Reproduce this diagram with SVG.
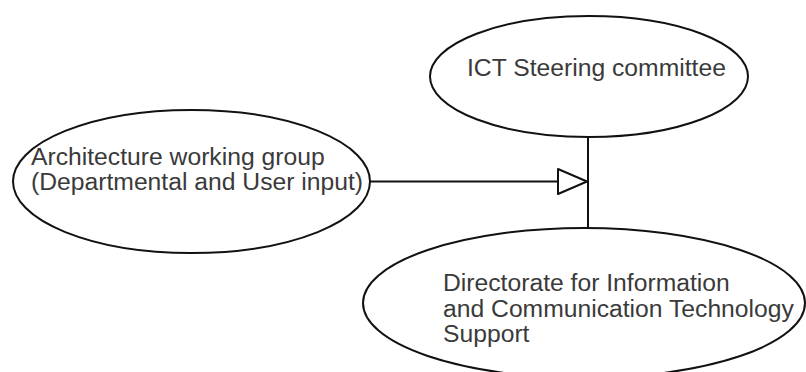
<svg xmlns="http://www.w3.org/2000/svg" width="806" height="372" viewBox="0 0 806 372">
  <style>
    .node ellipse { fill: #ffffff; stroke: #111111; stroke-width: 2; }
    .node text { font-family: "Liberation Sans", Arial, sans-serif; font-size: 24.7px; fill: #3a3a3a; }
    .edge { fill: none; stroke: #111111; stroke-width: 2; }
    .head { fill: #ffffff; stroke: #111111; stroke-width: 2; stroke-linejoin: round; }
  </style>
  <rect width="806" height="372" fill="#ffffff"/>

  <g id="connectors">
    <!-- vertical link between steering committee and directorate -->
    <line class="edge" x1="588" y1="137" x2="588" y2="228"/>
    <!-- input from the architecture working group -->
    <line class="edge" x1="370" y1="181.5" x2="558" y2="181.5"/>
    <polygon class="head" points="558,169 587,181.5 558,194"/>
  </g>

  <g id="ict-steering-committee" class="node">
    <ellipse cx="589" cy="76.5" rx="159" ry="60.5"/>
    <text x="467" y="76">ICT Steering committee</text>
  </g>

  <g id="architecture-working-group" class="node">
    <ellipse cx="191.5" cy="181.5" rx="178.5" ry="71.5"/>
    <text x="31" y="165">Architecture working group</text>
    <text x="31" y="190">(Departmental and User input)</text>
  </g>

  <g id="directorate-ict-support" class="node">
    <ellipse cx="584" cy="303" rx="221" ry="75"/>
    <text x="443" y="291">Directorate for Information</text>
    <text x="443" y="316.5">and Communication Technology</text>
    <text x="443" y="342">Support</text>
  </g>
</svg>
